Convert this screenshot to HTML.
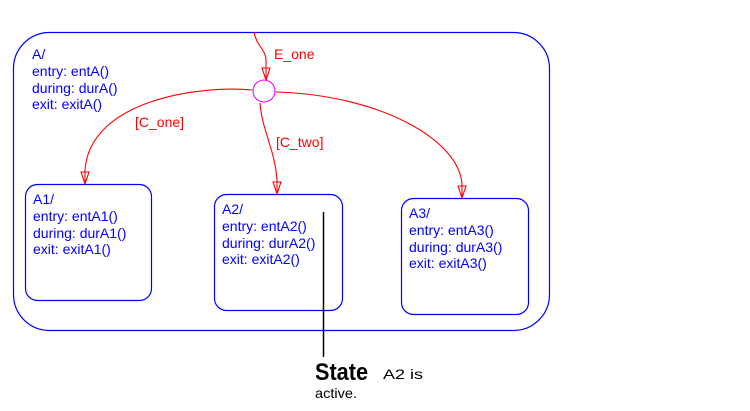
<!DOCTYPE html>
<html><head><meta charset="utf-8"><style>body{margin:0;background:#fff}</style></head><body>
<svg width="750" height="411" xmlns="http://www.w3.org/2000/svg" style="display:block">
<g fill="none" stroke="#0000ff" stroke-width="1.2">
<rect x="13.5" y="32.5" width="536" height="298" rx="36"/>
<rect x="25.5" y="184.5" width="126" height="116" rx="12"/>
<rect x="214.5" y="194.5" width="128" height="116" rx="12"/>
<rect x="401.5" y="198.5" width="127" height="116" rx="12"/>
</g>
<g font-family="Liberation Sans, sans-serif" font-size="14" fill="#0000ff">
<text x="32" y="59">A/</text><text x="32" y="76">entry: entA()</text><text x="32" y="93">during: durA()</text><text x="32" y="109">exit: exitA()</text>
<text x="33" y="204">A1/</text><text x="33" y="221">entry: entA1()</text><text x="33" y="238">during: durA1()</text><text x="33" y="254">exit: exitA1()</text>
<text x="222" y="214">A2/</text><text x="222" y="231">entry: entA2()</text><text x="222" y="248">during: durA2()</text><text x="222" y="264">exit: exitA2()</text>
<text x="409" y="218">A3/</text><text x="409" y="235">entry: entA3()</text><text x="409" y="252">during: durA3()</text><text x="409" y="268">exit: exitA3()</text>
</g>
<g fill="none" stroke="#ff0000" stroke-width="1.1">
<path d="M254 32 C256 45 266 50 266 60 L266 80"/>
<path d="M252 90 C200 85 90 100 85 170 L85 184"/>
<path d="M260 103 C262 130 275 150 277 180 L277 194"/>
<path d="M276 92 C380 95 460 140 462 185 L462 198"/>
<path d="M262 68 L270 68 L266 80 Z M81 172 L89 172 L85 184 Z M273 182 L281 182 L277 194 Z M458 186 L466 186 L462 198 Z"/>
</g>
<circle cx="264" cy="91" r="11" fill="none" stroke="#ff00ff" stroke-width="1.1"/>
<g font-family="Liberation Sans, sans-serif" font-size="14" fill="#ff0000">
<text x="274" y="59">E_one</text><text x="135" y="127">[C_one]</text><text x="276" y="147">[C_two]</text>
</g>
<line x1="323.5" y1="212" x2="323.5" y2="357" stroke="#000" stroke-width="1.5"/>
<text x="315" y="380" font-family="Liberation Sans, sans-serif" font-weight="bold" font-size="24" fill="#000" textLength="53" lengthAdjust="spacingAndGlyphs">State</text>
<text x="383" y="379" font-family="Liberation Sans, sans-serif" font-size="14" fill="#000" textLength="40" lengthAdjust="spacingAndGlyphs">A2 is</text>
<text x="315" y="398" font-family="Liberation Sans, sans-serif" font-size="14" fill="#000" textLength="42" lengthAdjust="spacingAndGlyphs">active.</text>
</svg>
</body></html>
